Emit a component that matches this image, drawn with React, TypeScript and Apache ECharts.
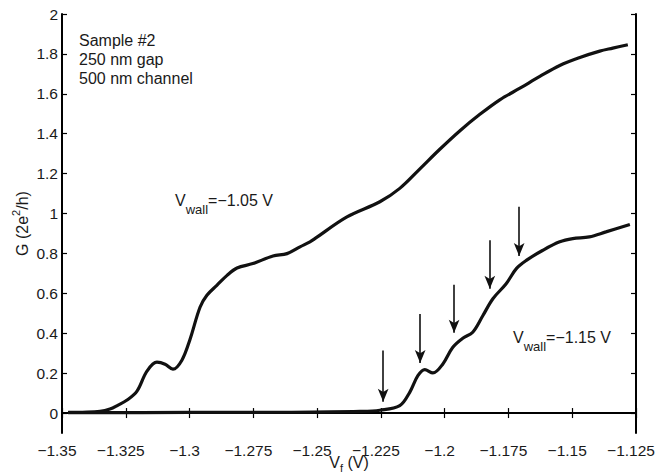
import React, { useEffect, useRef } from "react";
import * as echarts from "echarts";

// Vwall = -1.05 V trace
const upperX = [-1.3476, -1.342, -1.3351, -1.3312, -1.328, -1.3245, -1.3206, -1.3167, -1.3128, -1.3096, -1.3065, -1.303, -1.2998, -1.2959, -1.2932, -1.2893, -1.2853, -1.2814, -1.2752, -1.2673, -1.2618, -1.2567, -1.2528, -1.2509, -1.2383, -1.2254, -1.2176, -1.2097, -1.2019, -1.194, -1.1862, -1.1784, -1.1705, -1.1627, -1.1549, -1.147, -1.1392, -1.1341, -1.1282];
const upperG = [0.003, 0.004, 0.008, 0.02, 0.04, 0.065, 0.11, 0.21, 0.255, 0.245, 0.22, 0.265, 0.37, 0.53, 0.59, 0.64, 0.69, 0.727, 0.749, 0.787, 0.799, 0.833, 0.858, 0.874, 0.983, 1.059, 1.126, 1.224, 1.322, 1.415, 1.497, 1.57, 1.628, 1.687, 1.742, 1.782, 1.814, 1.829, 1.846];

// Vwall = -1.15 V trace
const lowerX = [-1.3476, -1.3, -1.26, -1.2332, -1.2254, -1.2176, -1.2137, -1.2105, -1.2078, -1.2046, -1.2007, -1.1968, -1.1929, -1.189, -1.185, -1.1811, -1.1759, -1.1719, -1.168, -1.1615, -1.1549, -1.1498, -1.1433, -1.1368, -1.1274];
const lowerG = [0.002, 0.003, 0.004, 0.008, 0.014, 0.037, 0.104, 0.187, 0.218, 0.201, 0.246, 0.33, 0.375, 0.405, 0.489, 0.573, 0.648, 0.724, 0.765, 0.816, 0.858, 0.874, 0.883, 0.908, 0.945];

// arrows
const arrowX = [-1.2241, -1.2096, -1.1963, -1.1823, -1.1708];
const arrowTop = [0.313, 0.497, 0.643, 0.866, 1.034];
const arrowTip = [0.057, 0.251, 0.402, 0.623, 0.787];

const yTicks = [0, 0.2, 0.4, 0.6, 0.8, 1, 1.2, 1.4, 1.6, 1.8, 2];

const FONT = "'Liberation Sans', Arial, Helvetica, sans-serif";
const INK = "#1a1a1a";

export default function App() {
  const ref = useRef<HTMLDivElement>(null);
  useEffect(() => {
    if (!ref.current) return;
    const chart = echarts.init(ref.current, null, { renderer: "svg" });
    const zip = (xs: number[], ys: number[]) => xs.map((x, i) => [x, ys[i]]);
    const fmtX = (v: number) => String(Number(v.toFixed(3))).replace("-", "\u2212");
    const axisLine = { show: true, lineStyle: { color: "#000", width: 2 } };
    const tick = { show: true, inside: true, length: 5, lineStyle: { color: "#000", width: 1.2 } };
    const option: any = {
      animation: false,
      backgroundColor: "#fff",
      grid: { left: 62, top: 14, right: 21, bottom: 43, containLabel: false, outerBoundsMode: "none" },
      xAxis: [
        {
          type: "value",
          min: -1.35,
          max: -1.125,
          interval: 0.025,
          position: "bottom",
          axisLine,
          axisTick: tick,
          splitLine: { show: false },
          axisLabel: { formatter: fmtX, color: INK, fontFamily: FONT, fontSize: 15.5, margin: 9, padding: [0, 10, 0, 0] },
          name: "{v|V}{s|f} (V)",
          nameLocation: "middle",
          nameGap: 18,
          nameMoveOverlap: false,
          nameTextStyle: {
            color: INK,
            fontFamily: FONT,
            fontSize: 16,
            rich: {
              v: { fontFamily: FONT, fontSize: 16, color: INK, lineHeight: 22 },
              s: { fontFamily: FONT, fontSize: 11, color: INK, verticalAlign: "bottom" },
            },
          },
        },
        {
          type: "value",
          min: -1.35,
          max: -1.125,
          interval: 0.025,
          position: "top",
          axisLine,
          axisTick: tick,
          splitLine: { show: false },
          axisLabel: { show: false },
        },
      ],
      yAxis: [
        {
          type: "value",
          min: -0.1,
          max: 2,
          position: "left",
          axisLine,
          axisTick: { ...tick, customValues: yTicks },
          splitLine: { show: false },
          axisLabel: { customValues: yTicks, color: INK, fontFamily: FONT, fontSize: 15.5, margin: 4 },
          name: "G (2e{p|2}/h)",
          nameLocation: "middle",
          nameRotate: 90,
          nameGap: 28,
          nameMoveOverlap: false,
          nameTextStyle: {
            color: INK,
            fontFamily: FONT,
            fontSize: 16,
            lineHeight: 24,
            rich: {
              p: { fontFamily: FONT, fontSize: 11, color: INK, verticalAlign: "top" },
            },
          },
        },
        {
          type: "value",
          min: -0.1,
          max: 2,
          position: "right",
          axisLine,
          axisTick: { ...tick, customValues: yTicks },
          splitLine: { show: false },
          axisLabel: { show: false },
        },
      ],
      series: [
        {
          type: "line",
          data: zip(upperX, upperG),
          smooth: 0.35,
          showSymbol: false,
          lineStyle: { color: "#111", width: 3.2 },
        },
        {
          type: "line",
          data: zip(lowerX, lowerG),
          smooth: 0.35,
          showSymbol: false,
          lineStyle: { color: "#111", width: 3.2 },
          markLine: {
            silent: true,
            symbol: ["none", "arrow"],
            symbolSize: [8, 13],
            label: { show: false },
            lineStyle: { color: "#111", width: 1.6, type: "solid" },
            data: arrowX.map((x, i) => [
              { coord: [x, arrowTop[i]] },
              { coord: [x, arrowTip[i]] },
            ]),
          },
        },
      ],
      graphic: [
        {
          type: "text",
          left: 79,
          top: 31,
          style: {
            text: "Sample #2\n250 nm gap\n500 nm channel",
            fontFamily: FONT,
            fontSize: 16,
            lineHeight: 19,
            fill: INK,
          },
        },
        {
          type: "text",
          x: 175,
          y: 184,
          style: {
            text: "{v|V}{s|wall}{v|=\u22121.05 V}",
            rich: {
              v: { fontFamily: FONT, fontSize: 16, fill: INK, lineHeight: 32 },
              s: { fontFamily: FONT, fontSize: 13, fill: INK, verticalAlign: "bottom" },
            },
          },
        },
        {
          type: "text",
          x: 513,
          y: 321,
          style: {
            text: "{v|V}{s|wall}{v|=\u22121.15 V}",
            rich: {
              v: { fontFamily: FONT, fontSize: 16, fill: INK, lineHeight: 32 },
              s: { fontFamily: FONT, fontSize: 13, fill: INK, verticalAlign: "bottom" },
            },
          },
        },
      ],
    };
    chart.setOption(option);
    return () => chart.dispose();
  }, []);
  return (
    <div
      ref={ref}
      style={{ position: "fixed", left: 0, top: 0, width: 657, height: 476, background: "#fff" }}
    />
  );
}
